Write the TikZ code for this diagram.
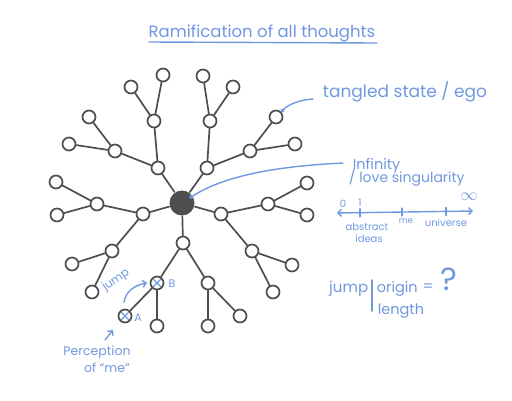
\documentclass[tikz,border=0pt]{standalone}
\usepackage{fontspec}
\setmainfont{Poppins}
\usetikzlibrary{arrows.meta}
\definecolor{ink}{RGB}{112,152,224}
\definecolor{branch}{RGB}{78,78,78}
\newcommand{\handsize}[1]{\fontsize{#1}{#1}\selectfont}
\tikzset{every picture/.style={line width=1.7pt},
	bud/.style={circle, draw=branch, fill=white, line width=1.7pt, minimum size=13pt, inner sep=0pt},
	hub/.style={circle, fill=branch, minimum size=25pt, inner sep=0pt},
	note/.style={text=ink, inner sep=0pt},
	pen/.style={draw=ink, line width=1.4pt}}

\begin{document}
\begin{tikzpicture}[x=1pt, y=-1pt, line join=round, line cap=round, >={Straight Barb[length=3.5pt]}]
	\useasboundingbox (0,0) rectangle (512,400);
	% the tree
	\node[hub] (O) at (182,203) {};
	\foreach \n/\p in {P1/{158,168}, P2/{207,168}, P3/{221,214}, P4/{183,243}, P5/{143,214},
		P1a/{154,121}, P1b/{115,151}, P2a/{210,121}, P2b/{250,151}, P3a/{268,204}, P3b/{252,251},
		B/{157,283}, P4b/{208,283}, P5a/{97,204}, P5b/{112,251},
		L1/{163,75}, L2/{131,87}, L3/{89,117}, L4/{69,144}, L5/{203,76}, L6/{233,87},
		L7/{276,117}, L8/{295,144}, L9/{307,183}, L10/{307,215}, L11/{292,265}, L12/{273,292},
		A/{125,316}, L13/{157,326}, L14/{208,326}, L15/{240,316}, L16/{56,182}, L17/{57,215},
		L18/{72,264}, L19/{92,292}}
		\node[bud] (\n) at (\p) {};
	\foreach \a/\b in {O/P1, O/P2, O/P3, O/P4, O/P5,
		P1/P1a, P1/P1b, P1a/L1, P1a/L2, P1b/L3, P1b/L4,
		P2/P2a, P2/P2b, P2a/L5, P2a/L6, P2b/L7, P2b/L8,
		P3/P3a, P3/P3b, P3a/L9, P3a/L10, P3b/L11, P3b/L12,
		P4/B, P4/P4b, B/A, B/L13, P4b/L14, P4b/L15,
		P5/P5a, P5/P5b, P5a/L16, P5a/L17, P5b/L18, P5b/L19}
		\draw[branch] (\a) -- (\b);
	% title
	\node[note, anchor=base, font=\handsize{16.5}] (title) at (262,37) {Ramification of all thoughts};
	\draw[pen] (149,42) -- (377,43);
	% ego and infinity notes
	\node[note, anchor=base west, font=\handsize{17}] (ego) at (322,97) {tangled state / ego};
	\coordinate (egotail) at (313,99);
	\draw[pen, -{Circle[length=4pt]}] (egotail) .. controls (298,100) and (288,105) .. (L7);
	\node[note, anchor=base west, font=\handsize{14.5}] (infin) at (352,169) {Infinity};
	\node[note, anchor=base west, font=\handsize{14}] (love) at (348,182) {/ love singularity};
	\coordinate (inftail) at (343,163);
	\draw[pen, shorten >=9pt, -{Circle[length=4pt]}] (inftail) .. controls (280,166) and (225,175) .. (O.center);
	% scale
	\coordinate (ax0) at (337,213);
	\coordinate (ax1) at (473,211);
	\draw[pen, <->] (ax0) -- (ax1);
	\foreach \p/\n in {0.169/t1, 0.478/t2, 0.801/t3}
		\path (ax0) -- (ax1) coordinate[pos=\p] (\n);
	\foreach \n in {t1,t2,t3}
		\draw[pen, line width=1.2pt] (\n) ++(0,-4) -- ++(0,8);
	\node[note, font=\handsize{10}] (zero) at (343,204) {0};
	\node[note, font=\handsize{10}] (one) at (360,203) {1};
	\node[note, font=\handsize{18}] (endless) at (469,197) {$\infty$};
	\node[note, font=\handsize{10}] (abstr) at (367,227) {abstract};
	\node[note, font=\handsize{10}] (ideas) at (369,239) {ideas};
	\node[note, font=\handsize{8.5}] (me) at (406,221) {me};
	\node[note, font=\handsize{10}] (univ) at (446,223) {universe};
	% jump over origin length
	\node[note, anchor=base east, font=\handsize{15}] (jmp) at (369,292) {jump};
	\node[note, anchor=base west, font=\handsize{14.5}] (orig) at (376,292) {origin};
	\node[note, anchor=base west, font=\handsize{14.5}] (len) at (377,314) {length};
	\draw[pen] (372,280) -- (372,311);
	\node[note, font=\handsize{15}] (eq) at (428,288) {=};
	\node[note, font=\handsize{32}] (ask) at (449,279) {?};
	% the jump from A to B
	\foreach \n in {A,B}
		\draw[pen, line width=1.2pt] (\n) +(-3.5,-3.5) -- +(3.5,3.5) +(-3.5,3.5) -- +(3.5,-3.5);
	\node[note, font=\handsize{11}] (bl) at (172,284) {B};
	\node[note, font=\handsize{11}] (al) at (138,318) {A};
	\node[note, rotate=35, font=\handsize{11.5}] (hop) at (116,280) {jump};
	\coordinate (hop0) at (124,302);
	\coordinate (hop1) at (147,283);
	\draw[pen, ->] (hop0) to[out=80, in=190] (hop1);
	\node[note, font=\handsize{12.5}] (perc) at (97,352) {Perception};
	\node[note, font=\handsize{12.5}] (ofme) at (107,368) {of “me”};
	\coordinate (perc0) at (105,340);
	\coordinate (perc1) at (113,330);
	\draw[pen, ->] (perc0) -- (perc1);
\end{tikzpicture}
\end{document}
